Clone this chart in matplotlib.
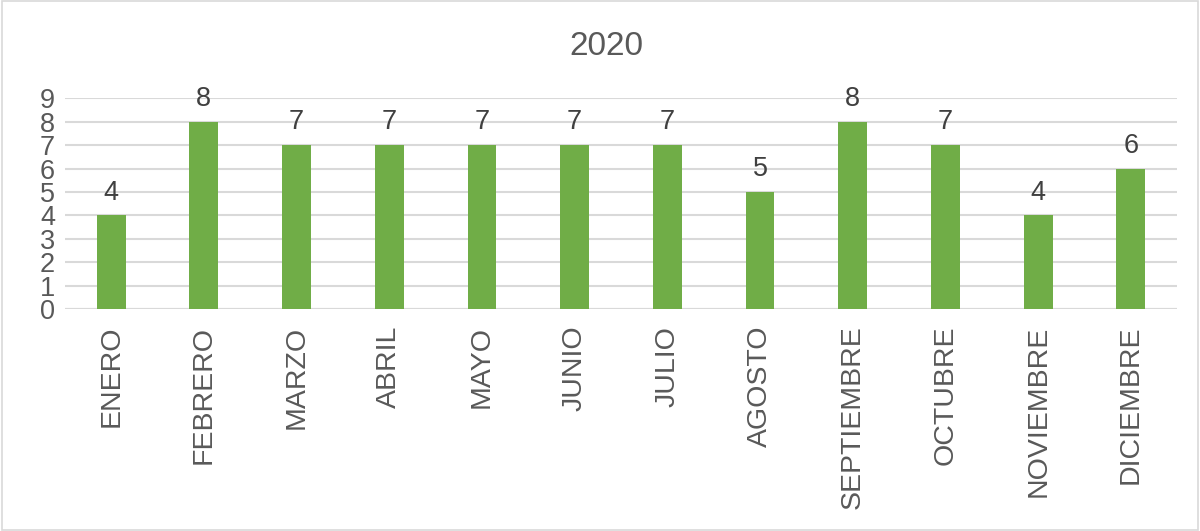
import matplotlib
matplotlib.use("Agg")
import matplotlib.pyplot as plt
from matplotlib.patches import Rectangle

plt.rcParams['font.family'] = ['Liberation Sans', 'DejaVu Sans']

months = ["ENERO", "FEBRERO", "MARZO", "ABRIL", "MAYO", "JUNIO", "JULIO",
          "AGOSTO", "SEPTIEMBRE", "OCTUBRE", "NOVIEMBRE", "DICIEMBRE"]
values = [4, 8, 7, 7, 7, 7, 7, 5, 8, 7, 4, 6]
yticks = list(range(0, 10))
title = "2020"

fig = plt.figure(figsize=(12, 5.31), dpi=100)
ax = fig.add_axes([0.054, 0.418, 0.927, 0.397])

x = list(range(len(months)))
ax.bar(x, values, width=0.31, color="#70AD47", zorder=3)
for xi, v in zip(x, values):
    ax.annotate(str(v), (xi, v), xytext=(0, 7), textcoords="offset points",
                ha="center", va="bottom", fontsize=19.5, color="#404040")

ax.set_xlim(-0.5, len(months) - 0.5)
ax.set_ylim(0, 9)
ax.set_yticks(yticks)
ax.set_yticklabels([str(t) for t in yticks], fontsize=19.5, color="#595959")
ax.set_xticks(x)
ax.set_xticklabels(months, rotation=90, fontsize=20.5, color="#595959")
ax.tick_params(axis='both', length=0)
ax.tick_params(axis='x', pad=12)
ax.tick_params(axis='y', pad=7)
ax.yaxis.grid(True, color="#D9D9D9", linewidth=1.5, zorder=0)
for s in ax.spines.values():
    s.set_visible(False)
ax.axhline(0, color="#D9D9D9", linewidth=1.5, zorder=2)

fig.text(0.505, 0.912, title, ha="center", va="center", fontsize=24, color="#595959")

fig.patches.append(Rectangle((0.002, 0.002), 0.996, 0.996, transform=fig.transFigure,
                             fill=False, edgecolor="#D9D9D9", linewidth=1.2))

fig.savefig("out.png", dpi=100)
